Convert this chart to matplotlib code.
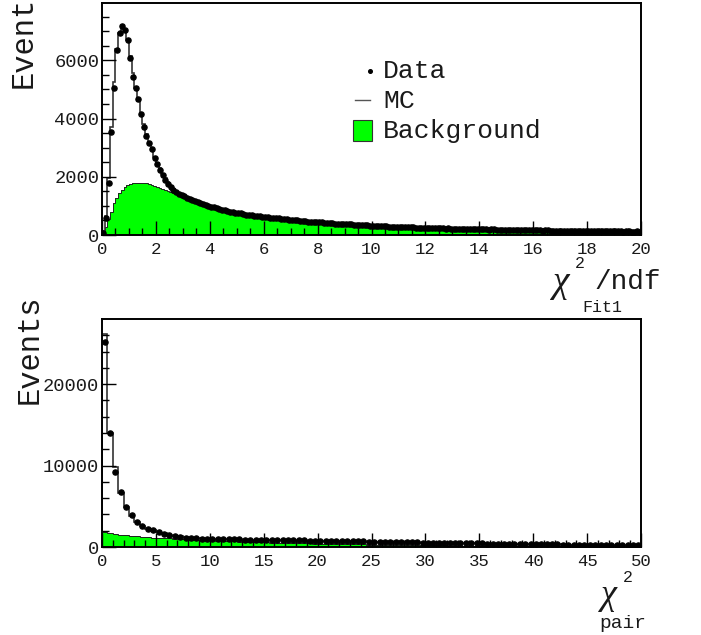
import numpy as np
import matplotlib
matplotlib.use("Agg")
import matplotlib.pyplot as plt
from matplotlib.lines import Line2D
from matplotlib.patches import Rectangle

# ---------------- data: top panel (chi2/ndf Fit1), 200 bins on [0,20] ----------------
top_range = (0.0, 20.0)
top_data = [
    60, 573, 1794, 3543, 5066, 6346, 6953, 7169, 7056, 6690,
    6081, 5430, 5052, 4655, 4150, 3720, 3400, 3166, 2939, 2660,
    2435, 2230, 2070, 1890, 1760, 1650, 1560, 1480, 1420, 1360,
    1326, 1278, 1226, 1209, 1159, 1118, 1104, 1066, 1027, 1010,
    964, 952, 929, 890, 873, 857, 820, 805, 797, 766,
    749, 744, 728, 702, 697, 689, 664, 653, 650, 627,
    615, 613, 601, 580, 578, 571, 550, 541, 539, 520,
    512, 513, 503, 485, 486, 479, 461, 455, 455, 438,
    432, 434, 426, 410, 411, 407, 391, 387, 389, 373,
    368, 370, 365, 350, 353, 350, 335, 332, 334, 320,
    316, 319, 315, 302, 306, 304, 290, 288, 291, 278,
    275, 279, 275, 263, 268, 267, 254, 253, 257, 245,
    243, 248, 245, 233, 238, 237, 224, 223, 227, 216,
    215, 221, 219, 208, 214, 213, 202, 202, 207, 196,
    195, 201, 199, 188, 194, 193, 182, 182, 187, 176,
    175, 181, 179, 168, 174, 173, 162, 162, 167, 156,
    155, 161, 159, 148, 155, 155, 145, 146, 152, 142,
    142, 149, 148, 138, 145, 145, 135, 136, 142, 132,
    132, 139, 138, 128, 135, 135, 125, 126, 132, 122,
    122, 129, 128, 118, 125, 125, 115, 116, 122, 112,
]
top_mc = [
    150, 640, 1950, 3700, 5250, 6400, 6950, 7080, 7050, 6700,
    6150, 5550, 5050, 4600, 4180, 3800, 3460, 3170, 2920, 2690,
    2480, 2290, 2110, 1950, 1810, 1690, 1585, 1495, 1420, 1355,
    1312, 1272, 1234, 1197, 1162, 1128, 1095, 1064, 1034, 1005,
    976, 948, 921, 896, 872, 849, 828, 808, 789, 771,
    754, 738, 723, 709, 695, 682, 669, 656, 644, 632,
    620, 608, 597, 586, 575, 565, 555, 545, 535, 526,
    517, 508, 499, 490, 482, 474, 466, 458, 450, 443,
    436, 429, 422, 415, 408, 402, 396, 390, 384, 378,
    372, 366, 360, 355, 350, 345, 340, 335, 330, 325,
    320, 315, 311, 307, 303, 299, 295, 291, 287, 283,
    279, 275, 271, 268, 265, 262, 259, 256, 253, 250,
    247, 244, 241, 238, 235, 232, 229, 226, 223, 221,
    219, 217, 215, 213, 211, 209, 207, 205, 203, 201,
    199, 197, 195, 193, 191, 189, 187, 185, 183, 181,
    179, 177, 175, 173, 171, 169, 167, 165, 163, 161,
    159, 157, 155, 153, 152, 151, 150, 149, 148, 147,
    146, 145, 144, 143, 142, 141, 140, 139, 138, 137,
    136, 135, 134, 133, 132, 131, 130, 129, 128, 127,
    126, 125, 124, 123, 122, 121, 120, 119, 118, 117,
]
top_bkg = [
    0, 285, 560, 800, 1090, 1260, 1450, 1560, 1660, 1720,
    1760, 1785, 1795, 1800, 1795, 1785, 1770, 1750, 1725, 1700,
    1665, 1628, 1590, 1552, 1514, 1476, 1438, 1400, 1362, 1324,
    1287, 1247, 1209, 1172, 1137, 1103, 1070, 1039, 1009, 980,
    951, 923, 896, 871, 847, 824, 803, 783, 764, 746,
    729, 713, 698, 684, 670, 657, 644, 631, 619, 607,
    585, 573, 562, 551, 540, 530, 520, 510, 500, 491,
    482, 473, 464, 455, 447, 439, 431, 423, 415, 408,
    401, 394, 387, 380, 373, 367, 361, 355, 349, 343,
    337, 331, 325, 320, 315, 310, 305, 300, 295, 290,
    285, 280, 276, 272, 268, 264, 260, 256, 252, 248,
    244, 240, 236, 233, 230, 227, 224, 221, 218, 215,
    212, 209, 206, 203, 200, 197, 194, 191, 188, 186,
    184, 182, 180, 178, 176, 174, 172, 170, 168, 166,
    164, 162, 160, 158, 156, 154, 152, 150, 148, 146,
    144, 142, 140, 138, 136, 134, 132, 130, 128, 126,
    124, 122, 120, 118, 117, 116, 115, 114, 113, 112,
    111, 110, 109, 108, 107, 106, 105, 104, 103, 102,
    101, 100, 99, 98, 97, 96, 95, 94, 93, 92,
    91, 90, 89, 88, 87, 86, 85, 84, 83, 82,
]

# ---------------- data: bottom panel (chi2 pair), 100 bins on [0,50] ----------------
bot_range = (0.0, 50.0)
bot_data = [
    25200, 13970, 9200, 6720, 4950, 3930, 3100, 2580, 2250, 2090,
    1840, 1630, 1470, 1330, 1230, 1160, 1110, 1065, 1030, 1005,
    995, 978, 969, 951, 945, 932, 918, 913, 897, 889,
    880, 871, 855, 851, 836, 829, 815, 806, 798, 784,
    777, 762, 756, 739, 731, 719, 706, 697, 681, 672,
    659, 648, 631, 624, 609, 599, 587, 572, 563, 550,
    538, 527, 512, 503, 492, 484, 468, 463, 450, 443,
    431, 423, 410, 405, 392, 388, 373, 369, 356, 352,
    343, 336, 325, 320, 311, 306, 296, 292, 283, 280,
    272, 268, 259, 257, 249, 247, 239, 238, 230, 229,
]
bot_mc = [
    26100, 14050, 9850, 6600, 4950, 3750, 3050, 2600, 2260, 2030,
    1850, 1680, 1520, 1390, 1290, 1210, 1150, 1100, 1060, 1025,
    995, 980, 965, 952, 940, 928, 916, 905, 894, 884,
    874, 864, 854, 844, 834, 824, 814, 804, 794, 784,
    774, 762, 750, 738, 726, 714, 702, 690, 678, 666,
    654, 642, 630, 618, 606, 595, 584, 573, 562, 551,
    540, 529, 518, 507, 496, 486, 476, 466, 456, 446,
    436, 426, 417, 408, 399, 390, 381, 372, 364, 356,
    348, 340, 332, 324, 316, 309, 302, 295, 288, 281,
    274, 268, 262, 256, 250, 245, 240, 235, 230, 225,
]
bot_bkg = [
    1850, 1720, 1610, 1520, 1440, 1370, 1310, 1255, 1205, 1160,
    1120, 1080, 1045, 1010, 975, 945, 915, 885, 858, 830,
    800, 772, 745, 720, 695, 672, 650, 628, 607, 587,
    568, 550, 532, 515, 498, 482, 467, 452, 438, 424,
    410, 397, 384, 372, 360, 348, 337, 326, 315, 305,
    295, 285, 276, 267, 258, 249, 241, 233, 225, 217,
    210, 203, 196, 189, 182, 176, 170, 164, 158, 152,
    147, 142, 137, 132, 127, 122, 118, 114, 110, 106,
    102, 98, 94, 90, 87, 84, 81, 78, 75, 72,
    69, 66, 63, 60, 57, 55, 53, 51, 49, 47,
]

top_yticks = [0, 2000, 4000, 6000]
top_xticks = [0, 2, 4, 6, 8, 10, 12, 14, 16, 18, 20]
bot_yticks = [0, 10000, 20000]
bot_xticks = [0, 5, 10, 15, 20, 25, 30, 35, 40, 45, 50]
legend_labels = ["Data", "MC", "Background"]

# ---------------- figure ----------------
W, H = 701, 635
fig = plt.figure(figsize=(W / 100, H / 100), dpi=100)
MONO = "Liberation Mono"
SERIF = "Liberation Serif"
GREEN = "#00ff00"
TXT = "#1a1a1a"


def fx(px):
    return px / W


def fy(py):
    return 1 - py / H


def draw_panel(ax, data, mc, bkg, xr, ylim, xticks, yticks, xminor, yminor):
    n = len(data)
    edges = np.linspace(xr[0], xr[1], n + 1)
    centers = 0.5 * (edges[:-1] + edges[1:])
    ax.stairs(bkg, edges, fill=True, facecolor=GREEN, edgecolor="none", zorder=1)
    ax.stairs(bkg, edges, fill=False, color="#222222", linewidth=0.7, zorder=1.1)
    ax.stairs(mc, edges, fill=False, color="#333333", linewidth=1.2, baseline=0, zorder=1.5)
    d = np.array(data, dtype=float)
    ax.plot(centers, d, linestyle="none", marker="o", markersize=3.7,
            color="black", zorder=2)
    ax.set_xlim(*xr)
    ax.set_ylim(*ylim)
    ax.set_xticks(xticks)
    ax.set_yticks(yticks)
    ax.set_xticks(np.arange(xr[0], xr[1] + 1e-9, xminor), minor=True)
    ax.set_yticks(np.arange(0, ylim[1], yminor), minor=True)
    ax.set_xticklabels([str(t) for t in xticks], fontfamily=MONO, fontsize=12.5, color=TXT)
    ax.set_yticklabels([str(t) for t in yticks], fontfamily=MONO, fontsize=13.5, color=TXT)
    ax.tick_params(which="both", direction="in", top=False, right=False,
                   width=1.0, color="black")
    ax.tick_params(which="major", length=10)
    ax.tick_params(which="minor", length=5)
    ax.tick_params(axis="x", pad=5)
    ax.tick_params(axis="y", pad=2)
    for s in ax.spines.values():
        s.set_linewidth(1.4)


ax1 = fig.add_axes([fx(102), fy(235), (641 - 102) / W, (235 - 3) / H])
draw_panel(ax1, top_data, top_mc, top_bkg, top_range, (0, 7970),
           top_xticks, top_yticks, 0.5, 500)

ax2 = fig.add_axes([fx(102), fy(547), (641 - 102) / W, (547 - 319) / H])
draw_panel(ax2, bot_data, bot_mc, bot_bkg, bot_range, (0, 28000),
           bot_xticks, bot_yticks, 1, 2000)

# y titles (the top one runs past the figure edge, as in the reference)
fig.text(fx(24), fy(88), "Events", rotation=90, ha="center", va="bottom",
         fontfamily=MONO, fontsize=22, color=TXT)
fig.text(fx(30), fy(404), "Events", rotation=90, ha="center", va="bottom",
         fontfamily=MONO, fontsize=22, color=TXT)

# x titles
fig.text(fx(561), fy(283), "\u03c7", ha="center", va="center",
         fontfamily=SERIF, fontsize=27, style="italic", color=TXT)
fig.text(fx(580), fy(264), "2", ha="center", va="center", fontfamily=MONO,
         fontsize=12, color=TXT)
fig.text(fx(628), fy(282), "/ndf", ha="center", va="center", fontfamily=MONO,
         fontsize=20, color=TXT)
fig.text(fx(602), fy(307), "Fit1", ha="center", va="center", fontfamily=MONO,
         fontsize=12, color=TXT)

fig.text(fx(609), fy(596), "\u03c7", ha="center", va="center",
         fontfamily=SERIF, fontsize=26, style="italic", color=TXT)
fig.text(fx(628), fy(578), "2", ha="center", va="center", fontfamily=MONO,
         fontsize=12, color=TXT)
fig.text(fx(623), fy(624), "pair", ha="center", va="center", fontfamily=MONO,
         fontsize=14, color=TXT)

# legend (top panel)
fig.add_artist(Line2D([fx(370)], [fy(71)], marker="o", markersize=2.6, color="black",
                      linestyle="none", transform=fig.transFigure))
fig.add_artist(Line2D([fx(355), fx(370)], [fy(100), fy(100)], color="#555555",
                      linewidth=1.0, transform=fig.transFigure))
fig.add_artist(Rectangle((fx(353), fy(141)), (372 - 353) / W, (141 - 120) / H,
                         facecolor=GREEN, edgecolor="#333333", linewidth=0.8,
                         transform=fig.transFigure))
for lab, yy in zip(legend_labels, [71, 101, 131]):
    fig.text(fx(383), fy(yy), lab, ha="left", va="center", fontfamily=MONO,
             fontsize=19, color=TXT)

fig.savefig("out.png", dpi=100)
